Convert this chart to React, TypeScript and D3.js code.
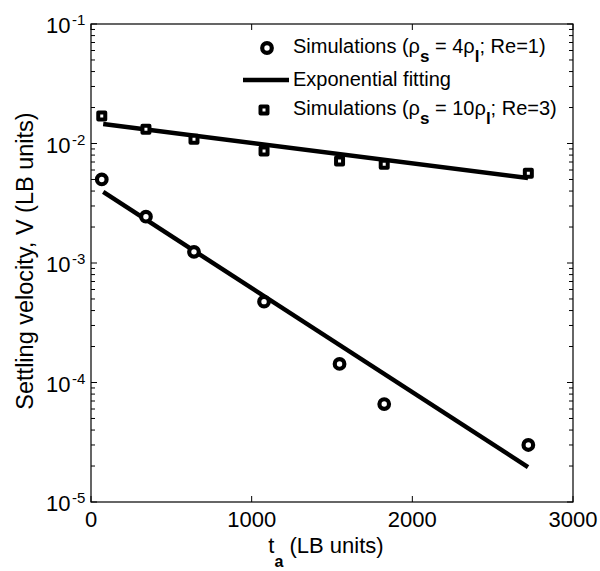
import React from "react";
import * as d3 from "d3";

const tA = [67, 342, 641, 1077, 1547, 1825, 2722];
const vSim4 = [5.0e-3, 2.44e-3, 1.24e-3, 4.75e-4, 1.43e-4, 6.6e-5, 3.0e-5];
const vSim10 = [1.7e-2, 1.315e-2, 1.084e-2, 8.65e-3, 7.14e-3, 6.7e-3, 5.63e-3];
const fitT = [76, 2720];
const fitSim4 = [3.93e-3, 1.96e-5];
const fitSim10 = [1.456e-2, 5.15e-3];
const xTicks = [0, 1000, 2000, 3000];
const yExps = [-1, -2, -3, -4, -5];

const W = 600, H = 571;
const L = 91, R = 573, T = 24, B = 502;
const FONT = "'Liberation Sans', Arial, sans-serif";

export default function App() {
  const x = d3.scaleLinear().domain([0, 3000]).range([L, R]);
  const y = d3.scaleLog().domain([1e-5, 1e-1]).range([B, T]);
  const line = d3.line<[number, number]>().x(d => x(d[0])).y(d => y(d[1]));
  const fit1: [number, number][] = fitT.map((t, i) => [t, fitSim4[i]]);
  const fit2: [number, number][] = fitT.map((t, i) => [t, fitSim10[i]]);

  const minor: number[] = [];
  for (let e = -5; e < -1; e++) {
    for (let k = 2; k <= 9; k++) minor.push(k * Math.pow(10, e));
  }

  const sq = 7;
  return (
    <svg width={W} height={H} style={{ position: "absolute", left: 0, top: 0, background: "#fff" }} fontFamily={FONT}>
      <rect x={0} y={0} width={W} height={H} fill="#fff" />
      {/* ticks */}
      {yExps.map(e => {
        const yy = y(Math.pow(10, e));
        return (
          <g key={"yt" + e}>
            <line x1={L} x2={L + 6} y1={yy} y2={yy} stroke="#000" strokeWidth={1} />
            <line x1={R} x2={R - 6} y1={yy} y2={yy} stroke="#000" strokeWidth={1} />
            <text x={46} y={yy + 9} fontSize={22} fill="#000">10</text>
            <text x={72} y={yy + 1} fontSize={15} fill="#000">{e}</text>
          </g>
        );
      })}
      {minor.map((v, i) => (
        <g key={"ym" + i}>
          <line x1={L} x2={L + 4} y1={y(v)} y2={y(v)} stroke="#000" strokeWidth={1} />
          <line x1={R} x2={R - 4} y1={y(v)} y2={y(v)} stroke="#000" strokeWidth={1} />
        </g>
      ))}
      {xTicks.map(t => (
        <g key={"xt" + t}>
          <line x1={x(t)} x2={x(t)} y1={B} y2={B - 6} stroke="#000" strokeWidth={1} />
          <line x1={x(t)} x2={x(t)} y1={T} y2={T + 6} stroke="#000" strokeWidth={1} />
          <text x={x(t)} y={527} fontSize={22} textAnchor="middle" fill="#000">{t}</text>
        </g>
      ))}
      <rect x={L} y={T} width={R - L} height={B - T} fill="none" stroke="#000" strokeWidth={1.2} />

      {/* fits */}
      <path d={line(fit1) || ""} fill="none" stroke="#000" strokeWidth={4.5} />
      <path d={line(fit2) || ""} fill="none" stroke="#000" strokeWidth={4.5} />

      {/* markers */}
      {tA.map((t, i) => (
        <circle key={"c" + i} cx={x(t)} cy={y(vSim4[i])} r={4.8} fill="#fff" stroke="#000" strokeWidth={4.2} />
      ))}
      {tA.map((t, i) => (
        <rect key={"s" + i} x={x(t) - sq / 2} y={y(vSim10[i]) - sq / 2} width={sq} height={sq}
          fill="#fff" stroke="#000" strokeWidth={4} strokeLinejoin="round" />
      ))}

      {/* legend */}
      <circle cx={267} cy={48} r={4.8} fill="#fff" stroke="#000" strokeWidth={4.2} />
      <line x1={243} x2={289} y1={80} y2={80} stroke="#000" strokeWidth={4.5} />
      <rect x={264 - sq / 2} y={110 - sq / 2} width={sq} height={sq} fill="#fff" stroke="#000" strokeWidth={4} strokeLinejoin="round" />
      <text x={293} y={52.5} fontSize={20} fill="#000">
        Simulations (ρ<tspan dy={9} fontSize={17} fontWeight="bold">s</tspan>
        <tspan dy={-9}> = 4ρ</tspan><tspan dy={9} fontSize={17} fontWeight="bold">l</tspan>
        <tspan dy={-9}>; Re=1)</tspan>
      </text>
      <text x={293} y={86} fontSize={20} fill="#000">Exponential fitting</text>
      <text x={293} y={115} fontSize={20} fill="#000">
        Simulations (ρ<tspan dy={9} fontSize={17} fontWeight="bold">s</tspan>
        <tspan dy={-9}> = 10ρ</tspan><tspan dy={9} fontSize={17} fontWeight="bold">l</tspan>
        <tspan dy={-9}>; Re=3)</tspan>
      </text>

      {/* axis labels */}
      <text x={326} y={553} fontSize={22} textAnchor="middle" fill="#000">
        t<tspan dy={14} fontSize={16} fontWeight="bold">a</tspan><tspan dy={-14}> (LB units)</tspan>
      </text>
      <text transform={`translate(33,${(T + B) / 2 - 2}) rotate(-90)`} fontSize={23.5} textAnchor="middle" fill="#000">
        Settling velocity, V (LB units)
      </text>
    </svg>
  );
}
